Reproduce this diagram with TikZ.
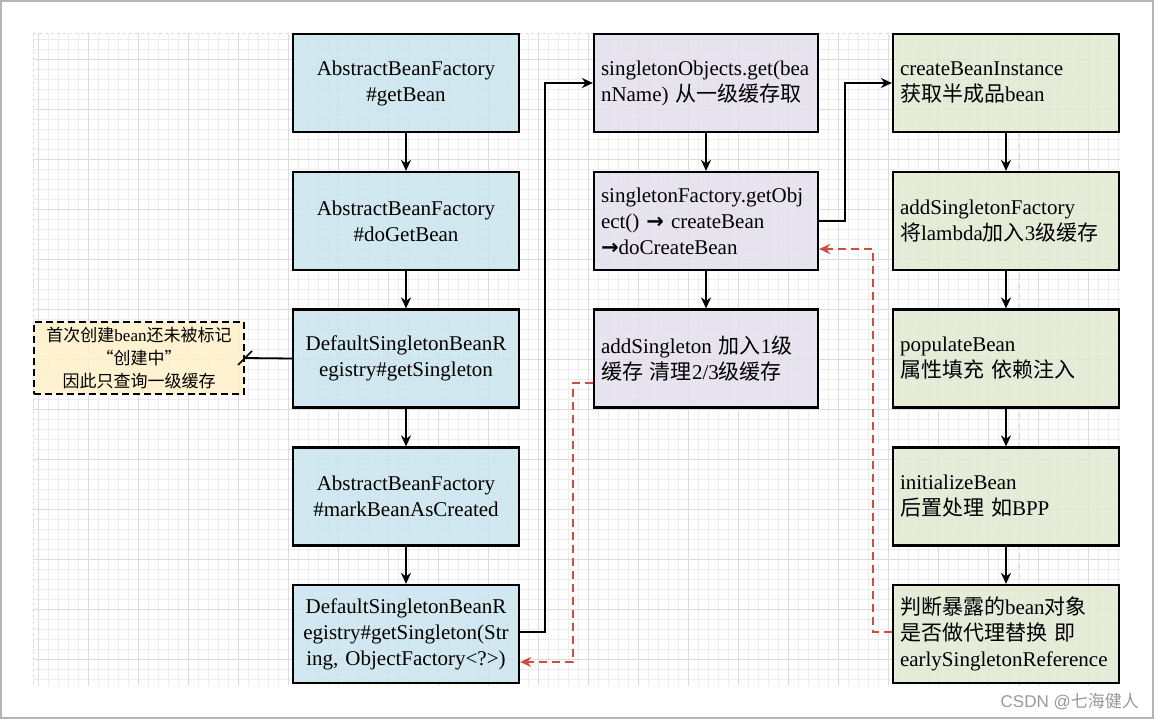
\documentclass[tikz,border=0pt]{standalone}
\usepackage{fontspec}
\setmainfont{Liberation Serif}
\newfontfamily\cjk{Noto Sans CJK SC}
\newfontfamily\symf{DejaVu Sans}
\newfontfamily\wmfont{Liberation Sans}
\usetikzlibrary{arrows.meta,calc}
\newcommand\zh[1]{{\cjk #1}}
\newcommand\rarr{{\symf\bfseries\char"2192}}
\definecolor{bluefill}{RGB}{200,228,237}
\definecolor{purplefill}{RGB}{228,223,236}
\definecolor{greenfill}{RGB}{224,232,208}
\definecolor{notefill}{RGB}{255,241,204}
\definecolor{reddash}{RGB}{206,76,64}
\definecolor{gridminor}{RGB}{237,237,237}
\definecolor{gridmajor}{RGB}{220,220,220}
\definecolor{frame}{RGB}{180,180,180}
\tikzset{
  boxbase/.style={draw=black, line width=2.2pt, minimum height=98pt, fill opacity=0.82, text opacity=1,
    font=\fontsize{21}{26}\selectfont, inner sep=7pt},
  bluebox/.style={boxbase, fill=bluefill, minimum width=226pt, text width=212pt, align=center},
  purplebox/.style={boxbase, fill=purplefill, minimum width=224pt, text width=210pt, align=left},
  greenbox/.style={boxbase, fill=greenfill, minimum width=226pt, text width=212pt, align=left},
  notebox/.style={draw=black, line width=2pt, dash pattern=on 7pt off 4pt, fill=notefill, fill opacity=0.9, text opacity=1,
    minimum width=210pt, minimum height=72pt, align=center, font=\fontsize{17}{23}\selectfont},
  arr/.style={draw=black, line width=1.8pt, -{Stealth[length=11pt,width=10pt]}},
  plain/.style={draw=black, line width=1.8pt},
  redarr/.style={draw=reddash, line width=2pt, dash pattern=on 8pt off 5pt, -{Stealth[length=11pt,width=10pt]}},
}
\begin{document}
\begin{tikzpicture}[x=1pt,y=-1pt]
\useasboundingbox (0,0) rectangle (1154,719);
\fill[white] (0,0) rectangle (1154,719);
\draw[frame, line width=1.5pt] (1,1) rectangle (1153,718);
% grid
\foreach \x in {38.5,48.5,...,1118.5} \draw[gridminor, line width=0.8pt] (\x,33) -- (\x,686);
\foreach \y in {39.5,49.5,...,680} \draw[gridminor, line width=0.8pt] (33,\y) -- (1120,\y);
\foreach \x in {38.5,88.5,...,1118.5} \draw[gridmajor, line width=0.8pt] (\x,33) -- (\x,686);
\foreach \y in {59.5,109.5,...,680} \draw[gridmajor, line width=0.8pt] (33,\y) -- (1120,\y);
\draw[gridmajor, line width=0.8pt, dashed] (33,33) -- (33,686);
\draw[gridmajor, line width=0.8pt, dashed] (33,33) -- (1120,33);
\draw[gridmajor, line width=1pt, dash pattern=on 6pt off 4pt] (1019,33) -- (1019,686);

% column 1
\node[bluebox] (b1) at (406,83) {AbstractBeanFactory\\\#getBean};
\node[bluebox] (b2) at (406,221) {AbstractBeanFactory\\\#doGetBean};
\node[bluebox] (b3) at (406,358.5) {DefaultSingletonBeanR\\egistry\#getSingleton};
\node[bluebox] (b4) at (406,496.5) {AbstractBeanFactory\\\#markBeanAsCreated};
\node[bluebox] (b5) at (406,634) {DefaultSingletonBeanR\\egistry\#getSingleton(Str\\ing, ObjectFactory<?>)};
% note
\node[notebox] (n) at (139,358) {\zh{首次创建}bean\zh{还未被标记}\\\zh{“创建中”}\\\zh{因此只查询一级缓存}};
% column 2
\node[purplebox] (c1) at (706,83) {singletonObjects.get(bea\\nName) \zh{从一级缓存取}};
\node[purplebox] (c2) at (706,221) {singletonFactory.getObj\\ect() \rarr{} createBean\\\rarr doCreateBean};
\node[purplebox] (c3) at (706,358.5) {addSingleton \zh{加入}1\zh{级}\\\zh{缓存 清理}2/3\zh{级缓存}};
% column 3
\node[greenbox] (d1) at (1006,83) {createBeanInstance\\\zh{获取半成品}bean};
\node[greenbox] (d2) at (1006,221) {addSingletonFactory\\\zh{将}lambda\zh{加入}3\zh{级缓存}};
\node[greenbox] (d3) at (1006,358.5) {populateBean\\\zh{属性填充 依赖注入}};
\node[greenbox] (d4) at (1006,496.5) {initializeBean\\\zh{后置处理 如}BPP};
\node[greenbox] (d5) at (1006,634) {\zh{判断暴露的}bean\zh{对象}\\\zh{是否做代理替换 即}\\earlySingletonReference};

% junction coordinates
\coordinate (j1) at (545,0);
\coordinate (j2) at (845,0);
\coordinate (r1) at (873,0);
\coordinate (r2) at (573,0);

% vertical arrows
\draw[arr] (b1.south) -- (b2.north);
\draw[arr] (b2.south) -- (b3.north);
\draw[arr] (b3.south) -- (b4.north);
\draw[arr] (b4.south) -- (b5.north);
\draw[arr] (c1.south) -- (c2.north);
\draw[arr] (c2.south) -- (c3.north);
\draw[arr] (d1.south) -- (d2.north);
\draw[arr] (d2.south) -- (d3.north);
\draw[arr] (d3.south) -- (d4.north);
\draw[arr] (d4.south) -- (d5.north);

% elbow connectors
\draw[arr] ([yshift=2pt]b5.east) -- ([yshift=2pt]b5.east -| j1) |- (c1.west);
\draw[arr] (c2.east) -- (c2.east -| j2) |- (d1.west);

% note connector with dash end
\draw[plain] (b3.west) -- (n.east);
\draw[plain, line width=1.5pt] ($(n.east)+(-7,7)$) -- ($(n.east)+(7,-7)$);

% red dashed
\draw[redarr] ([yshift=2pt]d5.west) -- ([yshift=2pt]d5.west -| r1) |- ([yshift=-28pt]c2.east);
\draw[redarr] ([yshift=-24pt]c3.west) -- ([yshift=-24pt]c3.west -| r2) |- ([yshift=-28pt]b5.east);

% watermark
\node[anchor=east, text=black!40, inner sep=0pt] (wm) at (1139,702) {\fontsize{17}{19}\selectfont\wmfont CSDN @\zh{七海健人}};
\end{tikzpicture}
\end{document}
